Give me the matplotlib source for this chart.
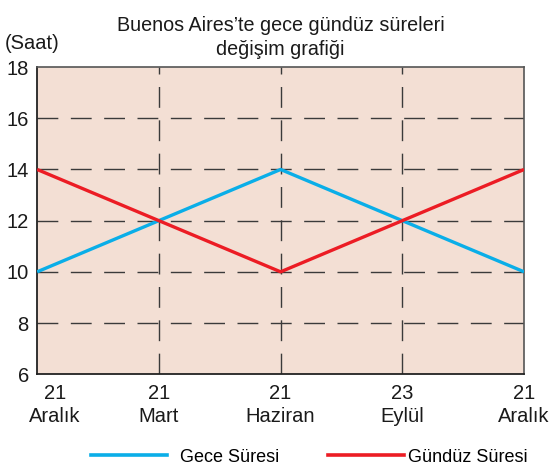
import matplotlib.pyplot as plt
from matplotlib.lines import Line2D
from matplotlib.transforms import ScaledTranslation

plt.rcParams['font.family'] = ['Liberation Sans', 'DejaVu Sans']
plt.rcParams['lines.scale_dashes'] = False

dates = ["21\nAralık", "21\nMart", "21\nHaziran", "23\nEylül", "21\nAralık"]
gece = [10, 12, 14, 12, 10]
gunduz = [14, 12, 10, 12, 14]
yticks = [6, 8, 10, 12, 14, 16, 18]

blue = "#0aaee8"
red = "#ec1c24"
txt = "#1a1a1a"

fig = plt.figure(figsize=(5.54, 4.66), dpi=100)
ax = fig.add_axes([0.067, 0.197, 0.879, 0.659])
ax.set_facecolor("#f3dfd4")

x = list(range(len(dates)))
dash = (0, (15, 9))
for xv in x[1:-1]:
    ax.axvline(xv, color="#3a3a3a", lw=1.0, ls=dash, zorder=1)
for yv in yticks[1:-1]:
    ax.axhline(yv, color="#3a3a3a", lw=1.0, ls=dash, zorder=1)

ax.plot(x, gece, color=blue, lw=2.4, zorder=3, solid_capstyle="butt")
ax.plot(x, gunduz, color=red, lw=2.4, zorder=4, solid_capstyle="butt")

ax.set_xlim(0, 4)
ax.set_ylim(6, 18)
ax.set_xticks(x)
ax.set_xticklabels(dates, fontsize=14.5, linespacing=1.3)
ax.set_yticks(yticks)
ax.tick_params(axis="both", length=0, colors=txt)
ax.tick_params(axis="y", labelsize=14.5, pad=6)
ax.tick_params(axis="x", pad=7)

# first date label sits a little to the right of the corner
first = ax.get_xticklabels()[0]
first.set_transform(first.get_transform() + ScaledTranslation(18 / 100, 0, fig.dpi_scale_trans))

for s in ["left", "bottom"]:
    ax.spines[s].set_linewidth(1.3)
    ax.spines[s].set_color("#222222")
for s in ["top", "right"]:
    ax.spines[s].set_linewidth(1.2)
    ax.spines[s].set_color("#555555")

ax.set_title("Buenos Aires’te gece gündüz süreleri\ndeğişim grafiği",
             fontsize=14.2, color=txt, pad=9, linespacing=1.28)
fig.text(0.009, 0.895, "(Saat)", fontsize=14.5, color=txt, va="baseline")

fig.legend([Line2D([], [], color=blue, lw=2.6)], ["Gece Süresi"], loc="center",
           bbox_to_anchor=(0.334, 0.019), frameon=False, fontsize=13,
           handlelength=4.2, handletextpad=0.75)
fig.legend([Line2D([], [], color=red, lw=2.6)], ["Gündüz Süresi"], loc="center",
           bbox_to_anchor=(0.772, 0.019), frameon=False, fontsize=13,
           handlelength=4.2, handletextpad=0.22)

fig.savefig("out.png", dpi=100)
